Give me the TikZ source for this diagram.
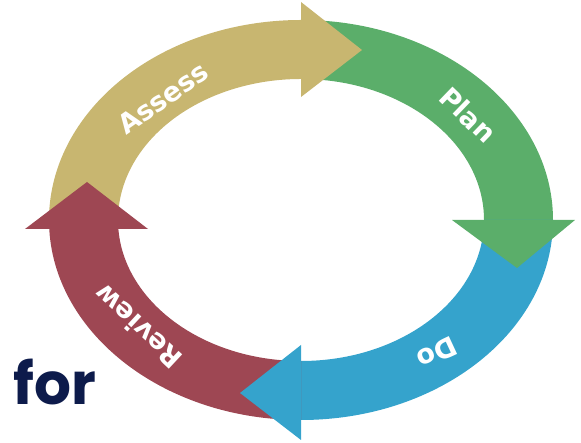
\documentclass[tikz,border=0pt]{standalone}
\usepackage{fontspec}
\newfontfamily\lblfont{DejaVu Sans}
\newfontfamily\forfont{Poppins}
\usetikzlibrary{calc}

\definecolor{assesscol}{HTML}{C8B670}
\definecolor{plancol}{HTML}{5BAE6A}
\definecolor{docol}{HTML}{35A3CC}
\definecolor{reviewcol}{HTML}{9E4753}
\definecolor{forcol}{HTML}{0D1B4B}

\begin{document}
\begin{tikzpicture}[x=1pt,y=1pt, line join=round]
				\useasboundingbox (0,0) rectangle (581,443);
				\coordinate (c) at (301,223);
				
				% ===== style nhãn =====
				\tikzset{lbl/.style={text=white, inner sep=0pt, font=\lblfont\bfseries\fontsize{27}{30}\selectfont}}
				
				% ===== các dải cung =====
				\foreach \a/\b/\col in {182/90/assesscol, 90/0/plancol, 0/-90/docol, -90/-180/reviewcol}{
					\fill[\col] ($(c)+(\a:252 and 200)$) arc[start angle=\a, end angle=\b, x radius=252, y radius=200]
					-- ($(c)+(\b:183 and 141)$) arc[start angle=\b, end angle=\a, x radius=183, y radius=141] -- cycle;
				}
				
				% ===== các mũi tên =====
				\fill[assesscol] (301,441) -- (362,393) -- (301,346) -- cycle;
				\fill[plancol] (452,223) -- (517,175) -- (575,223) -- cycle;
				\fill[docol] (301,98) -- (240,50) -- (301,3) -- cycle;
				\fill[reviewcol] (25,214) -- (87,261) -- (148,214) -- cycle;
				
				% ===== nhãn =====
				\node[lbl, rotate=35] (assess) at (163,345) {Assess};
				\node[lbl, rotate=-44] (plan) at (468,328) {Plan};
				\node[lbl, rotate=205] (do) at (437,90) {Do};
				\node[lbl, rotate=137] (review) at (138,116) {Review};
				
				\node[anchor=base west, inner sep=0pt, text=forcol, font=\forfont\bfseries\fontsize{58}{58}\selectfont] (for) at (13,38) {for};
			\end{tikzpicture}
\end{document}
